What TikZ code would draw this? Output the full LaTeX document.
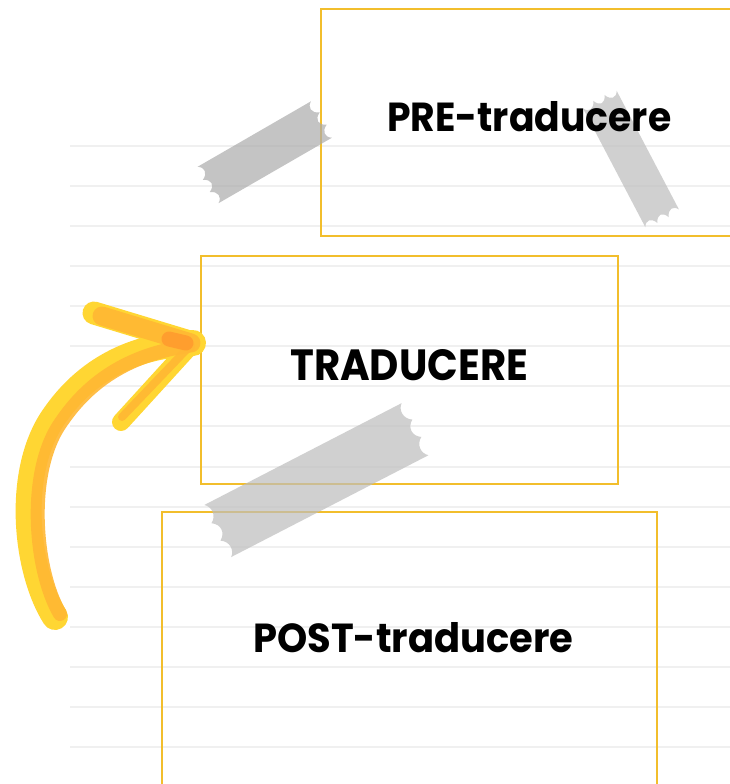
\documentclass[tikz,border=0pt]{standalone}
\usepackage{fontspec}
\setmainfont{Poppins}
\usetikzlibrary{calc}

\definecolor{boxline}{HTML}{F2BE2C}
\definecolor{ruling}{HTML}{F0F0F0}
\definecolor{marker}{HTML}{FFD633}
\definecolor{markerdeep}{HTML}{FFB733}
\definecolor{markertip}{HTML}{FF9A2E}
\definecolor{tapegray}{HTML}{BDBDBD}

\tikzset{
  tapefill/.style={fill=tapegray, fill opacity=0.7},
  % strip of tape, half length #1, half width #2, with torn (scalloped) ends
  pics/tape/.style 2 args={code={
    \fill[tapefill] (-#1,-#2) -- (#1,-#2)
      .. controls (#1-6,-5*#2/6) and (#1-6,-#2/2) .. (#1+2,-#2/3)
      .. controls (#1-6,-#2/6) and (#1-6,#2/6) .. (#1+2,#2/3)
      .. controls (#1-6,#2/2) and (#1-6,5*#2/6) .. (#1,#2)
      -- (-#1,#2)
      .. controls (-#1+6,5*#2/6) and (-#1+6,#2/2) .. (-#1-2,#2/3)
      .. controls (-#1+6,#2/6) and (-#1+6,-#2/6) .. (-#1-2,-#2/3)
      .. controls (-#1+6,-#2/2) and (-#1+6,-5*#2/6) .. (-#1,-#2)
      -- cycle;
  }},
}

\begin{document}
\begin{tikzpicture}[x=1pt, y=-1pt,
  box/.style={draw=boxline, line width=1.8pt, rectangle, inner sep=0pt},
  txt/.style={inner sep=0pt, anchor=base west},
  stroke/.style={draw=marker, line cap=round, line join=round},
  deep/.style={draw=markerdeep, draw opacity=0.9, line cap=round, line join=round}]
\useasboundingbox (0,0) rectangle (730,784);
\clip (0,0) rectangle (730,784);
\fill[white] (0,0) rectangle (730,784);

% ruled paper
\foreach \k in {0,...,15}
  \draw[ruling, line width=2pt] (70,145.5+40.13*\k) -- (730,145.5+40.13*\k);

% the three stage boxes
\node[box, minimum width=416pt, minimum height=227pt] (pre)  at (529,122.5) {};
\node[box, minimum width=417pt, minimum height=228pt] (trad) at (409.5,370) {};
\node[box, minimum width=495pt, minimum height=288pt] (post) at (409.5,656) {};

% tape strips
\pic[rotate=30, tapefill/.style={fill=black!33, fill opacity=0.7}] (tapeA) at (264.75,152.25) {tape={65.5}{21}};
\pic[rotate=-62.3] (tapeB) at (631,159) {tape={67}{19}};
\pic[rotate=27.3] (tapeC) at (316.4,480.1) {tape={111}{29.3}};

% stage titles
\node[txt] (preT)  at (387,131.7) {\resizebox{284pt}{30pt}{\bfseries PRE-traducere}};
\node[txt] (tradT) at (290,380)   {\resizebox{238pt}{31pt}{\bfseries TRADUCERE}};
\node[txt] (postT) at (253,652.7) {\resizebox{320pt}{30pt}{\bfseries POST-traducere}};

% highlighter arrow: light outer strokes, deeper inner band
\coordinate (aStart) at (55,617);
\coordinate (aTip) at (193,343);
\coordinate (barbUp) at (94,313);
\coordinate (barbLow) at (121,422);
\draw[stroke, line width=26pt] (aStart) .. controls (25,570) and (15,470) .. (55,415)
      .. controls (90,365) and (140,345) .. (aTip);
\draw[stroke, line width=23pt] (barbUp) -- (aTip);
\draw[stroke, line width=18pt] (aTip) -- (barbLow);
\draw[deep, line width=14pt] ($(aStart)+(5,-3)$) .. controls (34,570) and (26,470) .. (62,421)
      .. controls (95,373) and (140,353) .. ($(aTip)+(-5,3)$);
\draw[deep, line width=19pt] ($(barbUp)+(8,3)$) -- ($(aTip)+(-2,0)$);
\draw[deep, line width=8pt] ($(aTip)+(-5,5)$) -- ($(barbLow)+(1,-5)$);
\draw[draw=markertip, draw opacity=0.85, line cap=round, line width=15pt]
      ($(aTip)+(-24,-4)$) -- ($(aTip)+(-7,0)$);
\end{tikzpicture}
\end{document}
